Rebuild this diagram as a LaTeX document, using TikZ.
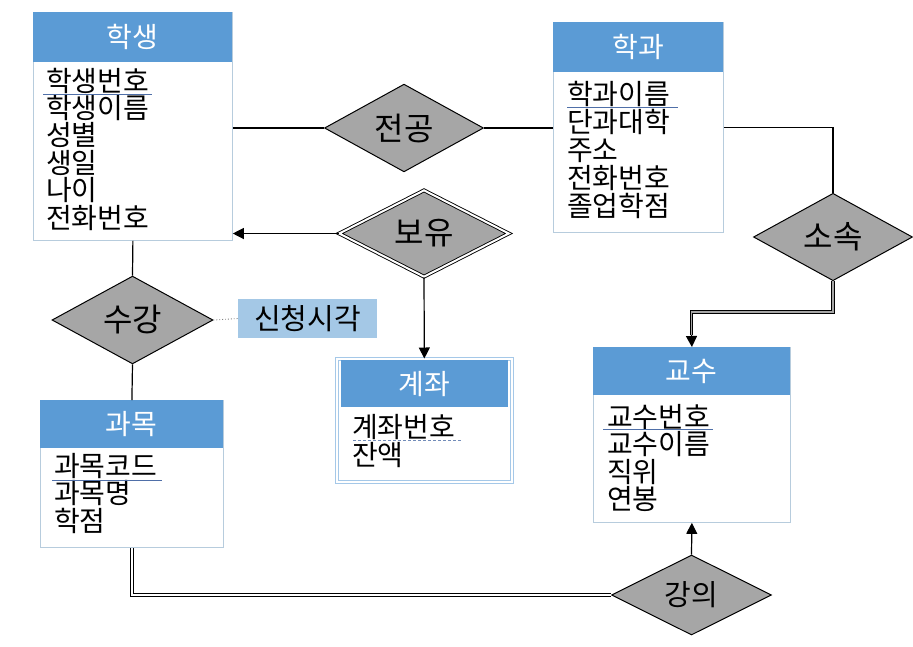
\documentclass[tikz,border=0pt]{standalone}
\usepackage{fontspec}
\setmainfont{Noto Sans CJK KR}
\usetikzlibrary{shapes.geometric,arrows.meta}
\definecolor{hdr}{HTML}{5B9BD5}
\definecolor{entb}{HTML}{B7CCDD}
\definecolor{dia}{HTML}{A6A6A6}
\definecolor{attrfill}{HTML}{A4C8E6}
\definecolor{uline}{HTML}{4F6FA8}
\begin{document}
\begin{tikzpicture}[x=1pt,y=-1pt,
  entity/.style={draw=entb, line width=0.8pt, fill=white, inner sep=0pt, anchor=north west},
  header/.style={fill=hdr, inner sep=0pt, anchor=north west, text=white, font=\fontsize{28}{28}\selectfont},
  attrtxt/.style={inner sep=0pt, anchor=base west, font=\fontsize{28}{28}\selectfont},
  rel/.style={diamond, draw=black, line width=1pt, fill=dia, inner sep=0pt, font=\fontsize{32}{32}\selectfont},
  ln/.style={line width=1.2pt},
  arr/.style={line width=1.2pt, -{Triangle[length=11pt,width=11pt]}},
  dblw/.style={double=white, double distance=1.8pt, line width=1pt},
  dblg/.style={double=dia, double distance=1.8pt, line width=1pt},
  keyline/.style={uline, line width=0.9pt}
]
\useasboundingbox (0,0) rectangle (913,646);

% ---------- 학생 ----------
\node[entity, minimum width=199pt, minimum height=228pt] (stu) at (33,12) {};
\node[header, minimum width=199pt, minimum height=50pt] (stuh) at (33,12) {학생};
\node[attrtxt] (s1) at (46,91) {학생번호};
\node[attrtxt] (s2) at (46,118.4) {학생이름};
\node[attrtxt] (s3) at (46,145.8) {성별};
\node[attrtxt] (s4) at (46,173.2) {생일};
\node[attrtxt] (s5) at (46,200.6) {나이};
\node[attrtxt] (s6) at (46,228) {전화번호};
\draw[keyline] (43,94) -- (152,94);

% ---------- 학과 ----------
\node[entity, minimum width=170pt, minimum height=210pt] (dept) at (553,22) {};
\node[header, minimum width=170pt, minimum height=50pt] (depth) at (553,22) {학과};
\node[attrtxt] (d1) at (567,104) {학과이름};
\node[attrtxt] (d2) at (567,132) {단과대학};
\node[attrtxt] (d3) at (567,160) {주소};
\node[attrtxt] (d4) at (567,188) {전화번호};
\node[attrtxt] (d5) at (567,216) {졸업학점};
\draw[keyline] (567,107) -- (678,107);

% ---------- 교수 ----------
\node[entity, minimum width=197pt, minimum height=175pt] (prof) at (593,347) {};
\node[header, minimum width=197pt, minimum height=48pt] (profh) at (593,347) {교수};
\node[attrtxt] (p1) at (607,427) {교수번호};
\node[attrtxt] (p2) at (607,454.5) {교수이름};
\node[attrtxt] (p3) at (607,482) {직위};
\node[attrtxt] (p4) at (607,509.5) {연봉};
\draw[keyline] (603,429) -- (713,429);

% ---------- 과목 ----------
\node[entity, minimum width=183pt, minimum height=147pt] (subj) at (40,400) {};
\node[header, minimum width=183pt, minimum height=48pt] (subjh) at (40,400) {과목};
\node[attrtxt] (j1) at (54,476) {과목코드};
\node[attrtxt] (j2) at (54,503.5) {과목명};
\node[attrtxt] (j3) at (54,531) {학점};
\draw[keyline] (52,480) -- (162,480);

% ---------- 계좌 (weak entity) ----------
\node[entity, draw=hdr!55, double=white, double distance=2pt, line width=0.7pt, minimum width=175pt, minimum height=123pt] (acct) at (336.5,358.5) {};
\node[header, minimum width=167pt, minimum height=47pt] (accth) at (340.5,360) {계좌};
\node[attrtxt] (a1) at (352,437) {계좌번호};
\node[attrtxt] (a2) at (352,465) {잔액};
\draw[uline!80, line width=0.8pt, dash pattern=on 3pt off 2pt] (353,440) -- (462,440);

% ---------- relationships ----------
\node[rel, minimum width=159pt, minimum height=81pt] (jg) at (404,128) {전공};
\node[rel, double=white, double distance=2pt, line width=0.9pt, minimum width=170pt, minimum height=85pt] (by) at (424,233.5) {보유};
\node[rel, minimum width=161pt, minimum height=82pt] (sg) at (132.5,320) {수강};
\node[rel, minimum width=159pt, minimum height=80pt] (ss) at (833,237) {소속};
\node[rel, minimum width=160pt, minimum height=80pt, font=\fontsize{29}{29}\selectfont] (gy) at (691.5,595) {강의};

% relationship attribute
\node[fill=attrfill, inner sep=0pt, minimum width=139pt, minimum height=39pt, font=\fontsize{29}{29}\selectfont] (sc) at (307.5,318.5) {신청시각};

% ---------- connectors ----------
\draw[ln] (jg.west -| stu.east) -- (jg.west);
\draw[ln] (jg.east) -- (jg.east -| dept.west);
\draw[ln] (dept.east) -| (ss.north);
\coordinate (k1) at (760,312);
\coordinate (pa) at (691.5,335);
\draw[dblg] (ss.south) |- (k1) -| (pa);
\draw[arr] (pa) -- (prof.north);
\draw[arr] (by.west) -- (by.west -| stu.east);
\draw[arr] (by.south) -- (acct.north);
\draw[ln] (stu.south) -- (sg.north);
\draw[ln] (sg.south) -- (subj.north);
\draw[gray, line width=0.9pt, dotted] (sg.east) -- (sc.west);
\draw[dblw] (subj.south) |- (gy.west);
\draw[arr] (gy.north) -- (prof.south);
\end{tikzpicture}
\end{document}
